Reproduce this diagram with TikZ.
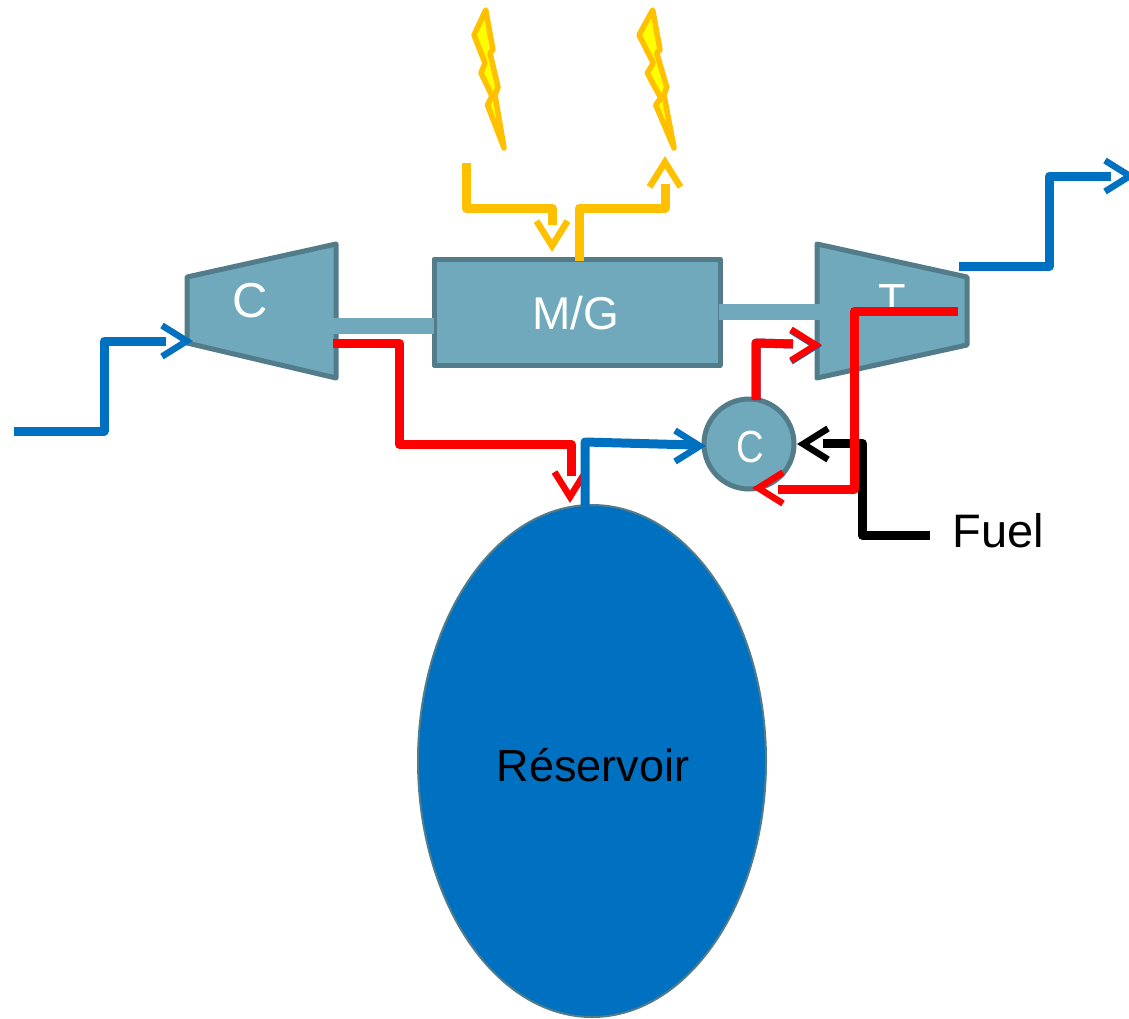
\documentclass[tikz,border=0pt]{standalone}
\usepackage{fontspec}
\usetikzlibrary{shapes.geometric}
\setmainfont{Liberation Sans}
\definecolor{teal1}{HTML}{70A9BB}
\definecolor{teal2}{HTML}{527C8A}
\definecolor{flowblue}{HTML}{0070C0}
\definecolor{elec}{HTML}{FFC000}
\definecolor{boltfill}{HTML}{FFFF00}
\tikzset{
  machine/.style={draw=teal2,fill=teal1,line width=5pt,line join=round},
  shaftbar/.style={draw=teal1,line width=16pt},
  flow/.style={line width=9pt,line join=round},
  bolt/.style={draw=elec,fill=boltfill,line width=5.5pt,line join=round},
  lightlabel/.style={text=white,font=\fontsize{45}{50}\selectfont,inner sep=0pt},
  darklabel/.style={text=black,font=\fontsize{45}{50}\selectfont,inner sep=0pt},
  barb/.pic={\draw[line width=6.5pt,line join=miter,pic actions] (-31,-15.5) -- (-6.2,0) -- (-31,15.5);}
}
\begin{document}
\begin{tikzpicture}[x=1pt,y=-1pt]
\useasboundingbox (0,0) rectangle (1129,1018);
% anchors
\coordinate (cTL) at (187,277); \coordinate (cTR) at (336,244);
\coordinate (cBR) at (336,378); \coordinate (cBL) at (187,343);
\coordinate (tTL) at (817,244); \coordinate (tTR) at (967,277);
\coordinate (tBR) at (967,345); \coordinate (tBL) at (817,378);
\coordinate (shaftA) at (328,326); \coordinate (shaftB) at (434,326);
\coordinate (shaftC) at (719,311.5); \coordinate (shaftD) at (825,311.5);
% machines
\draw[machine] (cTL) -- (cTR) -- (cBR) -- (cBL) -- cycle;
\draw[machine] (tTL) -- (tTR) -- (tBR) -- (tBL) -- cycle;
\node[machine,minimum width=286pt,minimum height=106pt,inner sep=0pt,outer sep=0pt] (mg) at (577,312) {};
\node[machine,circle,minimum size=90pt,inner sep=0pt,outer sep=0pt] (comb) at (749,444) {};
\node[draw=teal2,fill=flowblue,line width=2pt,ellipse,minimum width=348pt,minimum height=512pt,inner sep=0pt,outer sep=0pt] (res) at (592,761) {};
\draw[shaftbar] (shaftA) -- (shaftB);
\draw[shaftbar] (shaftC) -- (shaftD);
% labels
\node[lightlabel,font=\fontsize{49}{54}\selectfont] (lc) at (250,301) {C};
\node[lightlabel] (lt) at (892,300.5) {T};
\node[lightlabel,font=\fontsize{46}{50}\selectfont] (lmg) at (576,313.5) {M/G};
\node[lightlabel] (lcomb) at (750,446.7) {\scalebox{.85}[1]{C}};
\node[darklabel] (lres) at (593,765) {Réservoir};
\node[darklabel,font=\fontsize{47}{52}\selectfont] (lfuel) at (998,531) {Fuel};
% lightning bolts
\draw[bolt] (485.7,10) -- (474,35) -- (485,63) -- (481,73) -- (492,96) -- (487.5,105) -- (504,148) -- (495,95) -- (498,87) -- (490,53) -- (493,50) -- cycle;
\draw[bolt] (652.7,10) -- (639,35) -- (653.3,63) -- (647.3,73) -- (660.7,98) -- (655.7,105) -- (674,148) -- (664,95) -- (666.7,87) -- (656.7,53) -- (660,50) -- cycle;
% electric flows
\coordinate (e1) at (466,163); \coordinate (e2) at (466,208); \coordinate (e3) at (552,208); \coordinate (e4) at (552,225);
\draw[flow,draw=elec] (e1) -- (e2) -- (e3) -- (e4);
\pic[draw=elec,rotate=-90] at (552,252) {barb};
\coordinate (e5) at (579,261); \coordinate (e6) at (579,208); \coordinate (e7) at (665,208); \coordinate (e8) at (665,184);
\draw[flow,draw=elec] (e5) -- (e6) -- (e7) -- (e8);
\pic[draw=elec,rotate=90] at (665,156) {barb};
% air in / exhaust
\coordinate (a1) at (14,431); \coordinate (a2) at (104,431); \coordinate (a3) at (104,341); \coordinate (a4) at (166,341);
\draw[flow,draw=flowblue] (a1) -- (a2) -- (a3) -- (a4);
\pic[draw=flowblue,rotate=0] at (193,341) {barb};
\coordinate (x1) at (959,266); \coordinate (x2) at (1049.5,266); \coordinate (x3) at (1049.5,176); \coordinate (x4) at (1111,176);
\draw[flow,draw=flowblue] (x1) -- (x2) -- (x3) -- (x4);
\pic[draw=flowblue,rotate=0] at (1136,176) {barb};
% fuel
\coordinate (f1) at (930,535); \coordinate (f2) at (862,535); \coordinate (f3) at (862,443); \coordinate (f4) at (823,443);
\draw[flow,draw=black] (f1) -- (f2) -- (f3) -- (f4);
\pic[draw=black,rotate=180] at (797,444) {barb};
% compressed air to reservoir
\coordinate (r1) at (333,343); \coordinate (r2) at (399,343); \coordinate (r3) at (399,444); \coordinate (r4) at (571,444); \coordinate (r5) at (571,476);
\draw[flow,draw=red] (r1) -- (r2) -- (r3) -- (r4) -- (r5);
\pic[draw=red,rotate=-90] at (570,503) {barb};
% reservoir to combustor
\coordinate (b1) at (585,506); \coordinate (b2) at (585,442); \coordinate (b3) at (695,445);
\draw[flow,draw=flowblue] (b1) -- (b2) -- (b3);
\pic[draw=flowblue,rotate=0] at (706,446) {barb};
% combustor to turbine
\coordinate (g1) at (756,400); \coordinate (g2) at (756,343); \coordinate (g3) at (793,344);
\draw[flow,draw=flowblue,xshift=1pt,yshift=-1pt] (g1) -- (g2) -- (g3);
\pic[draw=flowblue,rotate=0] at (822,346) {barb};
\draw[flow,draw=red] (g1) -- (g2) -- (g3);
\pic[draw=red,rotate=0] at (822,345) {barb};
% turbine recuperation
\coordinate (h1) at (958,311); \coordinate (h2) at (854,311); \coordinate (h3) at (854,489); \coordinate (h4) at (778,489);
\draw[flow,draw=red] (h1) -- (h2) -- (h3) -- (h4);
\pic[draw=red,rotate=180] at (752,488) {barb};
\end{tikzpicture}
\end{document}
